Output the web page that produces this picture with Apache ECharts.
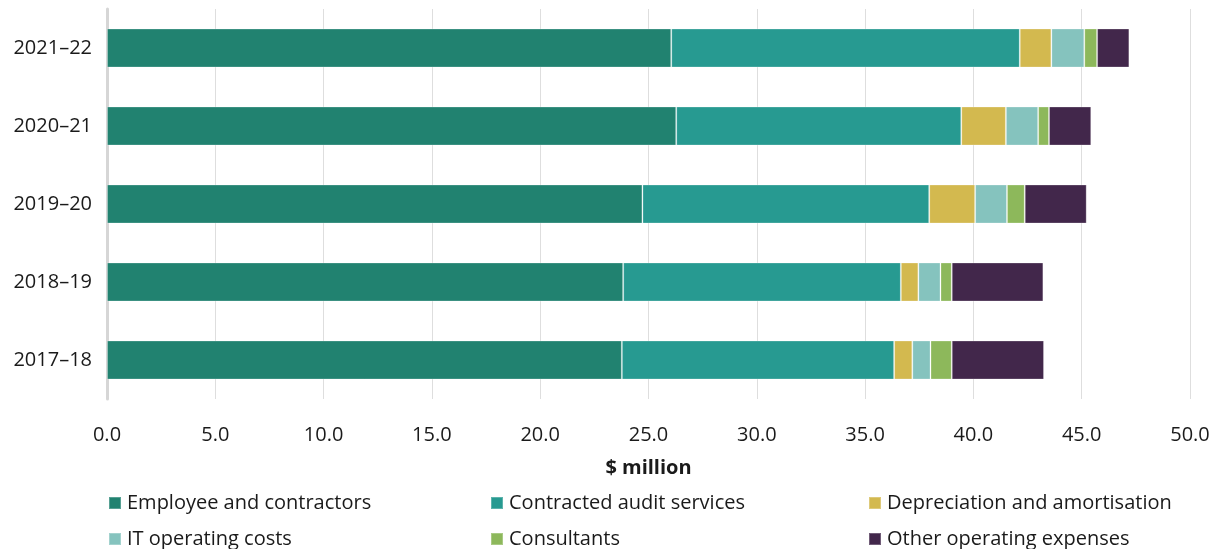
<!DOCTYPE html>
<html>
<head>
<meta charset="utf-8">
<script src="https://cdn.jsdelivr.net/npm/echarts@6/dist/echarts.min.js"></script>
<style>
  html, body { margin: 0; padding: 0; background: #fff; }
  #chart { width: 1213px; height: 549px; }
</style>
</head>
<body>
<div id="chart"></div>
<script>
// Financial years, top to bottom
const years = ['2021–22', '2020–21', '2019–20', '2018–19', '2017–18'];

// Expense components ($ million), same order as years
const employeeContractors = [26.05, 26.28, 24.72, 23.83, 23.77];
const contractedAudit     = [16.09, 13.16, 13.24, 12.82, 12.57];
const depreciation        = [1.46, 2.06, 2.12, 0.81, 0.84];
const itOperating         = [1.52, 1.49, 1.47, 1.02, 0.84];
const consultants         = [0.59, 0.50, 0.82, 0.52, 0.98];
const otherOperating      = [1.49, 1.95, 2.86, 4.23, 4.26];

const seriesNames = [
  'Employee and contractors',
  'Contracted audit services',
  'Depreciation and amortisation',
  'IT operating costs',
  'Consultants',
  'Other operating expenses'
];
const seriesData = [employeeContractors, contractedAudit, depreciation, itOperating, consultants, otherOperating];
const colors = ['#218270', '#279A91', '#D3B94F', '#85C3BE', '#8DB85B', '#42274B'];

const FONT = 'Open Sans';
const TEXT = '#1a1a1a';
const FS = 20;

const chart = echarts.init(document.getElementById('chart'));

// Legend laid out as a 3-column, 2-row grid
const legendCols = [108, 490, 868];
const legendRows = [493, 529];
const legends = seriesNames.map((name, i) => ({
  data: [name],
  left: legendCols[i % 3],
  top: legendRows[Math.floor(i / 3)],
  orient: 'horizontal',
  icon: 'rect',
  itemWidth: 12,
  itemHeight: 12,
  itemGap: 0,
  padding: 0,
  selectedMode: false,
  textStyle: { fontFamily: FONT, fontSize: FS, color: TEXT, padding: [0, 0, 0, 1] }
}));

chart.setOption({
  animation: false,
  color: colors,
  textStyle: { fontFamily: FONT },
  legend: legends,
  grid: { left: 107, right: 23, top: 9, bottom: 150, containLabel: false },
  xAxis: {
    type: 'value',
    min: 0,
    max: 50,
    interval: 5,
    name: '$ million',
    nameLocation: 'middle',
    nameGap: 59,
    nameTextStyle: { fontFamily: FONT, fontSize: FS, fontWeight: 'bold', color: TEXT },
    axisLine: { show: false },
    axisTick: { show: false },
    axisLabel: {
      margin: 26,
      fontFamily: FONT,
      fontSize: FS,
      color: TEXT,
      formatter: v => v.toFixed(1)
    },
    splitLine: { show: true, lineStyle: { color: '#dedede', width: 1 } }
  },
  yAxis: {
    type: 'category',
    data: years,
    inverse: true,
    axisLine: { show: true, lineStyle: { color: '#d6d6d6', width: 3 } },
    axisTick: { show: false },
    axisLabel: { margin: 15, fontFamily: FONT, fontSize: FS, color: TEXT }
  },
  series: seriesData.map((d, i) => ({
    name: seriesNames[i],
    type: 'bar',
    stack: 'total',
    data: d,
    barWidth: '50%',
    itemStyle: { color: colors[i], borderColor: 'rgba(255,255,255,0.25)', borderWidth: 1 }
  }))
});
</script>
</body>
</html>
